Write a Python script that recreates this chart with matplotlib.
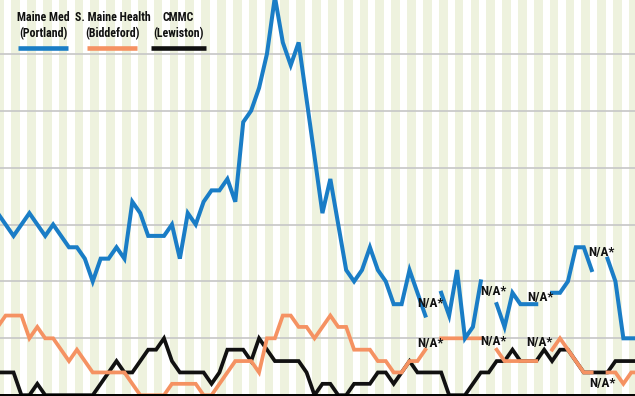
import numpy as np
import matplotlib
matplotlib.use("Agg")
import matplotlib.pyplot as plt
from matplotlib.lines import Line2D
from matplotlib import font_manager

nan = np.nan

# ---- data (weekly values, index = week) ----
maine_med = [16, 15, 14, 15, 16, 15, 14, 15, 14, 13,
             13, 12, 10, 12, 12, 13, 12, 17, 16, 14,
             14, 14, 15, 12, 16, 15, 17, 18, 18, 19,
             17, 24, 25, 27, 30, 35, 31, 29, 31, 26,
             21, 16, 19, 15, 11, 10, 11, 13, 11, 10,
             8, 8, 11, 9, 7, nan, 9, 7, 11, 5,
             6, 10, nan, 8, 6, 9, 8, 8, 8, nan,
             9, 9, 10, 13, 13, 11, nan, 12, 10, 5,
             5, 5]
s_maine = [6, 7, 7, 7, 5, 6, 5, 5, 4, 3,
           4, 3, 2, 2, 2, 2, 2, 1, 0, 0,
           0, 0, 1, 1, 1, 1, 0, 0, 1, 2,
           3, 3, 3, 2, 5, 5, 7, 7, 6, 6,
           5, 6, 7, 6, 6, 4, 4, 4, 3, 3,
           2, 2, 3, 3, 4, nan, 5, 5, 5, 5,
           5, 5, nan, 4, 3, 3, 3, 3, 3, nan,
           4, 5, 4, 3, 2, 2, nan, 2, 2, 1,
           2, 2]
cmmc = [2, 2, 2, 0, 0, 1, 0, 0, 0, 0,
        0, 0, 0, 1, 2, 3, 2, 2, 3, 4,
        4, 5, 3, 2, 2, 2, 2, 1, 2, 4,
        4, 4, 3, 5, 4, 3, 3, 3, 3, 2,
        0, 1, 1, 0, 0, 1, 1, 1, 2, 2,
        1, 2, 3, 2, 2, 2, 2, 0, 0, 0,
        1, 2, 2, 3, 3, 4, 3, 3, 3, 4,
        3, 4, 4, 3, 2, 2, 2, 2, 3, 3,
        3, 3]

series_names = ["Maine Med\n(Portland)", "S. Maine Health\n(Biddeford)", "CMMC\n(Lewiston)"]
colors = ["#1a7dc6", "#f59262", "#111111"]

# N/A* annotations: (week, value)
na_blue = [(54.7, 8.1), (62.6, 9.1), (68.5, 8.6), (76.2, 12.55)]
na_orange = [(54.7, 4.5), (62.6, 4.75), (68.4, 4.6), (76.4, 1.05)]

grid_values = [5, 10, 15, 20, 25, 30]

# ---- font ----
names = {f.name for f in font_manager.fontManager.ttflist}
cond = None
for cand in ["Liberation Sans Narrow", "DejaVu Sans Condensed", "Roboto Condensed", "Open Sans Condensed"]:
    if cand in names:
        cond = cand
        break
if cond is None:
    cond = "Liberation Sans"
plt.rcParams["font.family"] = [cond, "DejaVu Sans"]

fig = plt.figure(figsize=(6.35, 3.96), dpi=100)
ax = fig.add_axes([0, 0, 1, 1])
ax.set_facecolor("white")

x = np.arange(len(maine_med))

# vertical stripes
for k in range(-1, 42):
    ax.axvspan(2 * k - 0.3, 2 * k + 0.8, color="#eef2de", lw=0, zorder=0)

for g in grid_values:
    ax.axhline(g, color="#c6c6c6", lw=1.2, zorder=1)

ax.plot(x, cmmc, color=colors[2], lw=2.7, zorder=3, solid_joinstyle="miter")
ax.plot(x, s_maine, color=colors[1], lw=2.7, zorder=4, solid_joinstyle="miter")
ax.plot(x, maine_med, color=colors[0], lw=2.9, zorder=5, solid_joinstyle="miter")

ax.axhline(0, color="black", lw=1.4, zorder=6)

for (wx, wy) in na_blue + na_orange:
    ax.text(wx, wy, "N/A*", ha="center", va="center", fontsize=9.5,
            fontweight="bold", color="#111111", zorder=7)

ax.set_xlim(0.29, 80.47)
ax.set_ylim(-0.07, 34.73)
ax.axis("off")

# legend (text above colour swatch)
W, H = 635.0, 396.0
leg_centers = [43, 112.5, 178]
swatches = [(18.3, 68.3), (87.3, 137.3), (150.7, 205.7)]
for name, c, cx, (s0, s1) in zip(series_names, colors, leg_centers, swatches):
    fig.text(cx / W, 1 - 25.5 / H, name, ha="center", va="center",
             fontsize=8.6, fontweight="bold", color="#111111",
             linespacing=1.27, zorder=10)
    fig.add_artist(Line2D([s0 / W, s1 / W], [1 - 48 / H, 1 - 48 / H],
                          transform=fig.transFigure, color=c, lw=3.3,
                          solid_capstyle="butt", zorder=10))

fig.savefig("out.png", dpi=100)
